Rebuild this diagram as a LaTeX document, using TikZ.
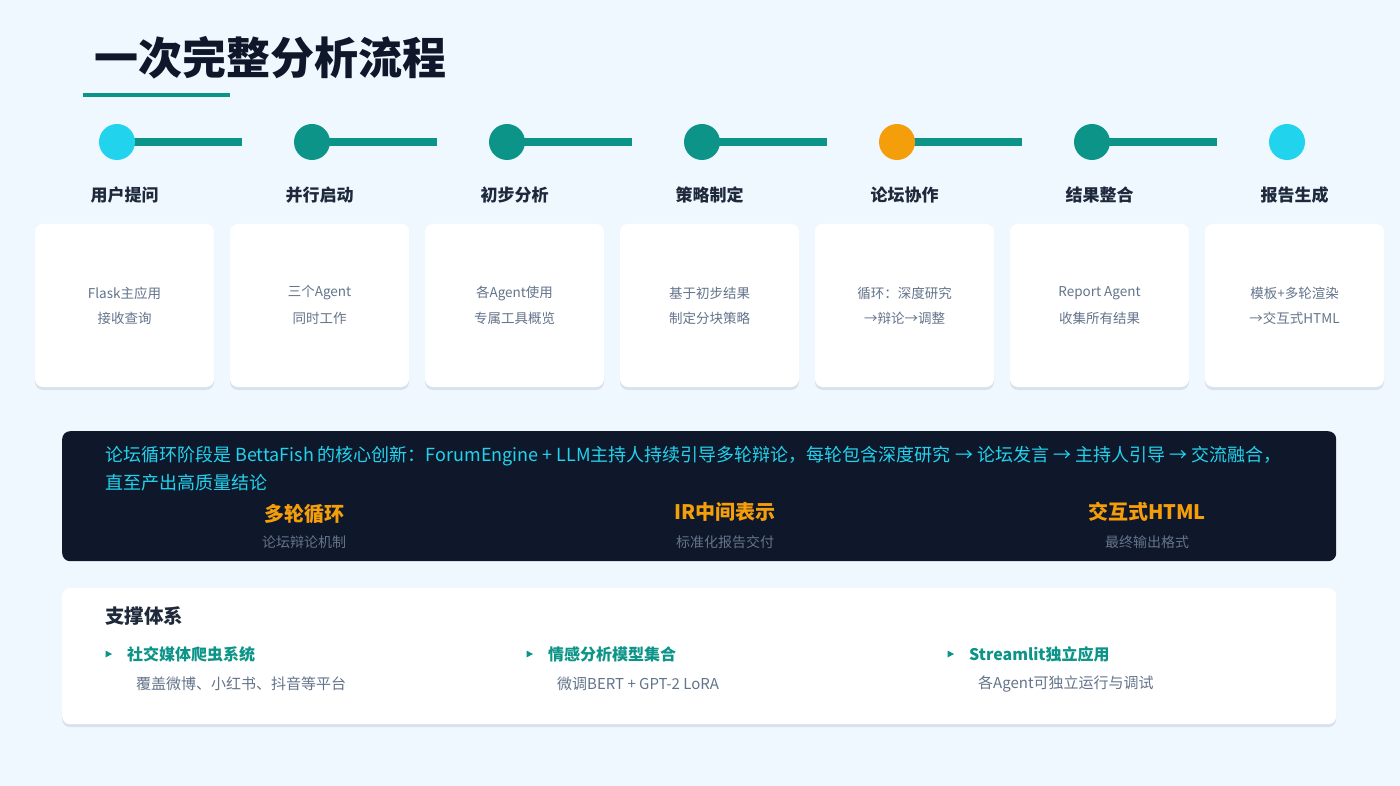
\documentclass[tikz,border=0pt]{standalone}
\usepackage{fontspec}
\setmainfont{Noto Sans CJK SC}
\usetikzlibrary{shadows}
\definecolor{bgc}{HTML}{F0F8FF}
\definecolor{tealc}{HTML}{0D9488}
\definecolor{cyanc}{HTML}{22D3EE}
\definecolor{orangec}{HTML}{F59E0B}
\definecolor{navyc}{HTML}{0F172A}
\definecolor{darkt}{HTML}{1E293B}
\definecolor{grayt}{HTML}{64748B}
\definecolor{shadowc}{HTML}{94A3B8}
\tikzset{
  card/.style={draw=none, fill=white, rounded corners=8pt, minimum width=179pt, minimum height=163pt, inner sep=0pt,
    drop shadow={shadow xshift=0pt, shadow yshift=-3pt, opacity=0.25, fill=shadowc}},
  dot/.style={circle, minimum size=36pt, inner sep=0pt, draw=none},
  link/.style={tealc, line width=8pt},
  steplabel/.style={font=\bfseries\fontsize{17}{20}\selectfont, text=darkt, inner sep=0pt},
  cardtext/.style={font=\fontsize{13.5}{25}\selectfont, text=grayt, align=center, inner sep=0pt},
  stattitle/.style={font=\bfseries\fontsize{20}{24}\selectfont, text=orangec, inner sep=0pt},
  statsub/.style={font=\fontsize{14}{17}\selectfont, text=grayt, inner sep=0pt},
  itemtitle/.style={font=\bfseries\fontsize{16}{19}\selectfont, text=tealc, anchor=west, inner sep=0pt},
  itemsub/.style={font=\fontsize{15}{18}\selectfont, text=grayt, anchor=west, inner sep=0pt},
  darktext/.style={anchor=west, inner sep=0pt, text=cyanc, font=\fontsize{18}{27}\selectfont},
}
\begin{document}
\begin{tikzpicture}[x=1pt,y=-1pt]
\fill[bgc] (0,0) rectangle (1400,786);
\useasboundingbox (0,0) rectangle (1400,786);
% title
\node[anchor=west, inner sep=0pt, font=\bfseries\fontsize{44}{52}\selectfont, text=navyc] (title) at (94,58) {一次完整分析流程};
\fill[tealc] (83,93) rectangle (230,97);
% columns
\foreach \i/\col/\lab/\la/\lb in {
  1/cyanc/用户提问/Flask主应用/接收查询,
  2/tealc/并行启动/三个Agent/同时工作,
  3/tealc/初步分析/各Agent使用/专属工具概览,
  4/tealc/策略制定/基于初步结果/制定分块策略,
  5/orangec/论坛协作/循环：深度研究/→辩论→调整,
  6/tealc/结果整合/Report Agent/收集所有结果,
  7/cyanc/报告生成/模板+多轮渲染/→交互式HTML}{
  \pgfmathsetmacro{\cx}{124.5+195*(\i-1)}
  \ifnum\i<7
    \coordinate (e\i) at (\cx+117.5,142);
    \draw[link] (\cx-7.5,142) -- (e\i);
  \fi
  \node[dot, fill=\col] (c\i) at (\cx-7.5,142) {};
  \node[steplabel] (l\i) at (\cx,195) {\lab};
  \node[card] (k\i) at (\cx,305.5) {};
  \node[cardtext] (ta\i) at (\cx,293) {\la};
  \node[cardtext] (tb\i) at (\cx,318) {\lb};
}
% dark box
\node[fill=navyc, rounded corners=8pt, minimum width=1274pt, minimum height=130pt, inner sep=0pt, anchor=north west] (dark) at (62,431) {};
\node[darktext] (d1) at (105,456) {论坛循环阶段是 BettaFish 的核心创新：ForumEngine + LLM主持人持续引导多轮辩论，每轮包含深度研究 → 论坛发言 → 主持人引导 → 交流融合，};
\node[darktext] (d2) at (105,483) {直至产出高质量结论};
\node[stattitle] (s1) at (304,514) {多轮循环};
\node[statsub] (u1) at (304,542) {论坛辩论机制};
\node[stattitle] (s2) at (725,512) {IR中间表示};
\node[statsub] (u2) at (725,542) {标准化报告交付};
\node[stattitle] (s3) at (1147,512) {交互式HTML};
\node[statsub] (u3) at (1147,542) {最终输出格式};
% bottom box
\node[fill=white, rounded corners=8pt, minimum width=1274pt, minimum height=136pt, inner sep=0pt, anchor=north west,
  drop shadow={shadow xshift=0pt, shadow yshift=-3pt, opacity=0.25, fill=shadowc}] (support) at (62,588) {};
\node[anchor=west, inner sep=0pt, text=darkt, font=\bfseries\fontsize{19.5}{23}\selectfont] (st) at (105,616) {支撑体系};
\foreach \j/\bx/\ti/\su in {1/108/社交媒体爬虫系统/覆盖微博、小红书、抖音等平台, 2/529/情感分析模型集合/微调BERT + GPT-2 LoRA, 3/950/Streamlit独立应用/各Agent可独立运行与调试}{
  \fill[tealc] (\bx-2.5,650.5) -- (\bx+4,654) -- (\bx-2.5,657.5) -- cycle;
  \node[itemtitle] (it\j) at (\bx+19,654) {\ti};
  \node[itemsub] (is\j) at (\bx+28,684) {\su};
}
\end{tikzpicture}
\end{document}
